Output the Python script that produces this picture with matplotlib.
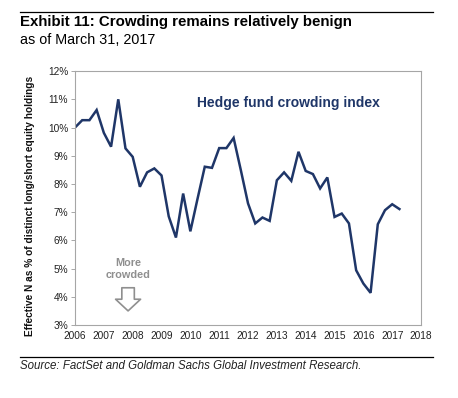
import numpy as np
import matplotlib
matplotlib.use('Agg')
import matplotlib.pyplot as plt
from matplotlib.lines import Line2D

plt.rcParams['font.family'] = ['Liberation Sans', 'DejaVu Sans']

# Quarterly hedge fund crowding index, Q4 2005 through Q1 2017
start_year = 2006.0
quarter_step = 0.25
crowding = [10.0, 10.26, 10.26, 10.62, 9.81, 9.32, 11.0, 9.26, 8.96, 7.9,
            8.41, 8.55, 8.3, 6.85, 6.1, 7.66, 6.32, 7.48, 8.61, 8.57,
            9.27, 9.27, 9.63, 8.49, 7.31, 6.6, 6.81, 6.69, 8.13, 8.41,
            8.11, 9.14, 8.46, 8.35, 7.84, 8.23, 6.83, 6.95, 6.6, 4.94,
            4.47, 4.14, 6.57, 7.07, 7.28, 7.11]
year_ticks = list(range(2006, 2019))
pct_ticks = list(range(3, 13))

dates = start_year + quarter_step * np.arange(len(crowding))

navy = '#1f3668'
grey = '#8f8f8f'

fig = plt.figure(figsize=(4.58, 3.98), dpi=100)
ax = fig.add_axes([0.1638, 0.1834, 0.7555, 0.638])

ax.plot(dates, crowding, color=navy, linewidth=1.8, solid_joinstyle='miter')

ax.set_xlim(2006, 2018)
ax.set_ylim(3, 12)
ax.set_xticks(year_ticks)
ax.set_xticklabels([str(y) for y in year_ticks], fontsize=7.3, color='#222222')
ax.set_yticks(pct_ticks)
ax.set_yticklabels([f'{p}%' for p in pct_ticks], fontsize=7.3, color='#222222')
ax.tick_params(axis='y', length=3, width=0.6, color='#999999', pad=2)
ax.tick_params(axis='x', length=0, pad=4)
for s in ax.spines.values():
    s.set_color('#a6a6a6')
    s.set_linewidth(0.8)

ax.set_ylabel('Effective N as % of distinct long/short equity holdings',
              fontsize=7.3, fontweight='bold', color='#111111')
ax.yaxis.set_label_coords(-0.116, 0.467)

ax.text(2010.24, 10.87, 'Hedge fund crowding index', fontsize=10,
        fontweight='bold', color=navy, va='center', ha='left')

ax.text(2007.84, 4.98, 'More\ncrowded', fontsize=7.8, fontweight='bold',
        color=grey, ha='center', va='center', linespacing=1.3)
ax.annotate('', xy=(2007.84, 3.5), xytext=(2007.84, 4.32),
            arrowprops=dict(arrowstyle='simple,head_width=1.5,tail_width=0.75,head_length=0.7',
                            fc='white', ec=grey, lw=1.2, mutation_scale=12,
                            shrinkA=0, shrinkB=0))

# header / footer rules and text
fig.add_artist(Line2D([20 / 458, 433 / 458], [1 - 12 / 398, 1 - 12 / 398],
                      color='black', linewidth=0.9))
fig.text(20 / 458, 1 - 22 / 398, 'Exhibit 11: Crowding remains relatively benign',
         fontsize=10.8, fontweight='bold', va='center', ha='left')
fig.text(20 / 458, 1 - 40 / 398, 'as of March 31, 2017',
         fontsize=10.4, va='center', ha='left')

fig.add_artist(Line2D([20 / 458, 433 / 458], [1 - 357 / 398, 1 - 357 / 398],
                      color='black', linewidth=0.9))
fig.text(20 / 458, 1 - 366 / 398,
         'Source: FactSet and Goldman Sachs Global Investment Research.',
         fontsize=8.3, style='italic', va='center', ha='left', color='#222222')

fig.savefig('out.png', dpi=100)
